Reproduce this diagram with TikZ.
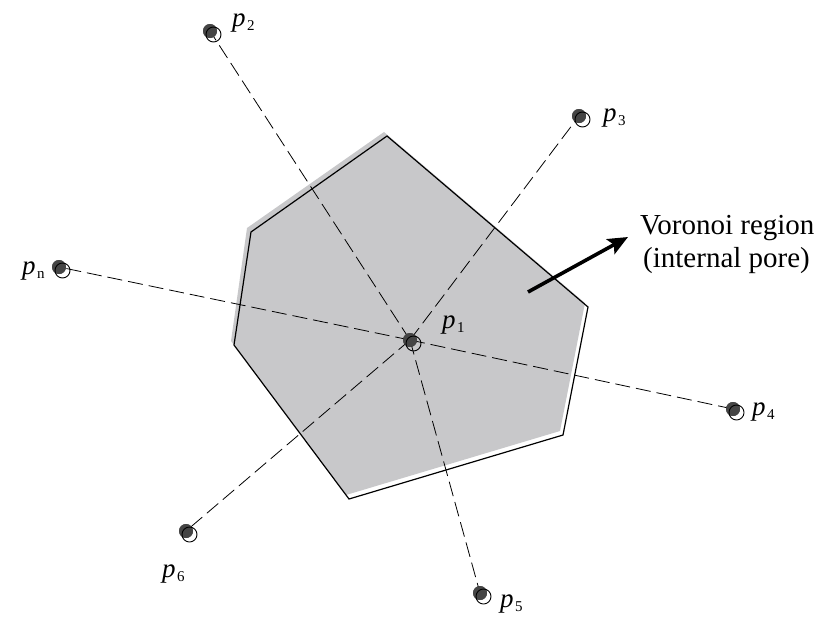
\documentclass[tikz,border=0pt]{standalone}
\usepackage{fontspec}
\setmainfont{Liberation Serif}
\usetikzlibrary{arrows.meta}

\definecolor{cellgray}{HTML}{C8C8CA}
\definecolor{dotfill}{HTML}{454545}

% point label: italic p with an upright subscript
\newcommand\plab[1]{{\fontsize{27}{30}\selectfont\textit{p}\kern1.5pt\raisebox{-4pt}{\fontsize{15}{15}\selectfont #1}}}

\tikzset{
  site/.style={circle, fill=dotfill, inner sep=0pt, minimum size=14pt},
  ring/.style={draw=black, line width=0.9pt},
  spoke/.style={draw=black, line width=0.8pt, dash pattern=on 15pt off 6pt},
  cell/.style={draw=black, line width=1.2pt},
  lab/.style={anchor=base west, inner sep=0pt},
  note/.style={anchor=base west, inner sep=0pt, font=\fontsize{29}{33}\selectfont},
  pointer/.style={-{Stealth[length=20pt,width=17pt,inset=4pt]}, line width=3.6pt}
}

\begin{document}
\begin{tikzpicture}[x=1pt,y=-1pt]
\useasboundingbox (0,0) rectangle (818,619);

% Voronoi cell: grey fill slightly offset from its outline
\fill[cellgray] (384,132) -- (585,303) -- (560,431) -- (346,495)
  -- (231,341) -- (247,228) -- cycle;
\draw[cell] (387,136) -- (588,307) -- (563,435) -- (349,499)
  -- (234,345) -- (251,232) -- cycle;

% sites
\node[site] (p1) at (410,340) {};
\node[site] (p2) at (210,31) {};
\node[site] (p3) at (579,116) {};
\node[site] (pn) at (59,267) {};
\node[site] (p4) at (733,409) {};
\node[site] (p5) at (480,593) {};
\node[site] (p6) at (186,531) {};

% dashed connections from the centre site
\foreach \q in {p2,p3,pn,p4,p5,p6}
  \draw[spoke] (p1.center) -- (\q.center);

% redraw sites on top of the dashes, with offset rings
\foreach \q in {p1,p2,p3,pn,p4,p5,p6}{
  \fill[dotfill] (\q.center) circle (7pt);
  \draw[ring] ([shift={(3.5,3.5)}]\q.center) circle (7.5pt);
}

% labels
\node[lab] (l1) at (442,328) {\plab{1}};
\node[lab] (l2) at (232,26) {\plab{2}};
\node[lab] (l3) at (603,121) {\plab{3}};
\node[lab] (ln) at (22,274) {\plab{n}};
\node[lab] (l4) at (752,415) {\plab{4}};
\node[lab] (l5) at (500,607) {\plab{5}};
\node[lab] (l6) at (162,577) {\plab{6}};

% annotation
\node[note] (v1) at (640,234) {Voronoi region};
\node[note] (v2) at (643,267) {(internal pore)};
\coordinate (a0) at (528,292);
\coordinate (a1) at (628,237);
\draw[pointer] (a0) -- (a1);
\end{tikzpicture}
\end{document}
